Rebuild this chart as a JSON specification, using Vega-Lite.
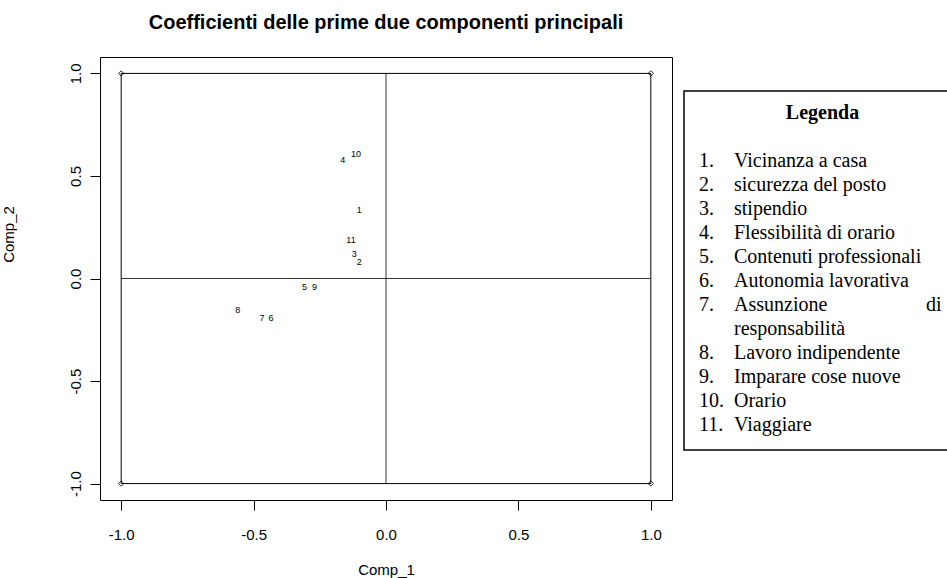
{
  "$schema": "https://vega.github.io/schema/vega-lite/v6.json",
  "background": "white",
  "padding": {"left": 0, "top": 12, "right": 0, "bottom": 0},
  "bounds": "flush",
  "spacing": 12,
  "config": {
    "view": {"stroke": null},
    "font": "Liberation Sans",
    "axis": {"labelFont": "Liberation Sans", "titleFont": "Liberation Sans"}
  },
  "datasets": {
    "loadings": [
      {"label": "1", "comp1": -0.101, "comp2": 0.335},
      {"label": "2", "comp1": -0.101, "comp2": 0.082},
      {"label": "3", "comp1": -0.12, "comp2": 0.121},
      {"label": "4", "comp1": -0.163, "comp2": 0.578},
      {"label": "5", "comp1": -0.308, "comp2": -0.04},
      {"label": "6", "comp1": -0.434, "comp2": -0.192},
      {"label": "7", "comp1": -0.468, "comp2": -0.192},
      {"label": "8", "comp1": -0.56, "comp2": -0.154},
      {"label": "9", "comp1": -0.27, "comp2": -0.04},
      {"label": "10", "comp1": -0.113, "comp2": 0.609},
      {"label": "11", "comp1": -0.132, "comp2": 0.187}
    ],
    "square": [
      {"comp1": -1, "comp2": 1, "comp1_end": 1, "comp2_end": 1},
      {"comp1": -1, "comp2": -1, "comp1_end": 1, "comp2_end": -1},
      {"comp1": -1, "comp2": -1, "comp1_end": -1, "comp2_end": 1},
      {"comp1": 1, "comp2": -1, "comp1_end": 1, "comp2_end": 1}
    ],
    "origin_lines": [
      {"comp1": -1, "comp2": 0, "comp1_end": 1, "comp2_end": 0},
      {"comp1": 0, "comp2": -1, "comp1_end": 0, "comp2_end": 1}
    ],
    "corners": [
      {"comp1": -1, "comp2": 1},
      {"comp1": 1, "comp2": 1},
      {"comp1": -1, "comp2": -1},
      {"comp1": 1, "comp2": -1}
    ],
    "legend": [
      {"line": 1, "num": "1.", "label": "Vicinanza a casa"},
      {"line": 2, "num": "2.", "label": "sicurezza del posto"},
      {"line": 3, "num": "3.", "label": "stipendio"},
      {"line": 4, "num": "4.", "label": "Flessibilità di orario"},
      {"line": 5, "num": "5.", "label": "Contenuti professionali"},
      {"line": 6, "num": "6.", "label": "Autonomia lavorativa"},
      {"line": 7, "num": "7.", "label": "Assunzione", "tail": "di"},
      {"line": 8, "num": "", "label": "responsabilità"},
      {"line": 9, "num": "8.", "label": "Lavoro indipendente"},
      {"line": 10, "num": "9.", "label": "Imparare cose nuove"},
      {"line": 11, "num": "10.", "label": "Orario"},
      {"line": 12, "num": "11.", "label": "Viaggiare"}
    ]
  },
  "hconcat": [
    {
      "width": 572,
      "height": 443,
      "view": {"stroke": "black", "strokeWidth": 1},
      "title": {
        "text": "Coefficienti delle prime due componenti principali",
        "font": "Liberation Sans",
        "fontSize": 20,
        "fontWeight": "bold",
        "color": "black",
        "anchor": "middle",
        "offset": 24
      },
      "encoding": {
        "x": {
          "field": "comp1",
          "type": "quantitative",
          "scale": {"domain": [-1.08, 1.08], "nice": false, "zero": false},
          "axis": {
            "values": [-1, -0.5, 0, 0.5, 1],
            "labelExpr": "(datum.value < 0 ? '-' : '') + format(abs(datum.value), '.1f')",
            "domain": false,
            "grid": false,
            "ticks": true,
            "tickSize": 10,
            "tickColor": "black",
            "labelPadding": 17,
            "labelFontSize": 15,
            "labelColor": "black",
            "title": "Comp_1",
            "titleFontSize": 15,
            "titleFontWeight": "normal",
            "titleColor": "black",
            "titlePadding": 20
          }
        },
        "y": {
          "field": "comp2",
          "type": "quantitative",
          "scale": {"domain": [-1.08, 1.08], "nice": false, "zero": false},
          "axis": {
            "values": [-1, -0.5, 0, 0.5, 1],
            "labelExpr": "(datum.value < 0 ? '-' : '') + format(abs(datum.value), '.1f')",
            "domain": false,
            "grid": false,
            "tickSize": 10,
            "tickColor": "black",
            "labelAngle": 270,
            "labelAlign": "center",
            "labelBaseline": "bottom",
            "labelPadding": 7,
            "labelFontSize": 15,
            "labelColor": "black",
            "title": "Comp_2",
            "titleFontSize": 15,
            "titleFontWeight": "normal",
            "titleColor": "black",
            "titleAngle": 270,
            "titleBaseline": "bottom",
            "titleX": -84,
            "titleY": 177
          }
        }
      },
      "layer": [
        {
          "data": {"name": "square"},
          "mark": {"type": "rule", "color": "black", "strokeWidth": 1},
          "encoding": {
            "x2": {"field": "comp1_end"},
            "y2": {"field": "comp2_end"}
          }
        },
        {
          "data": {"name": "origin_lines"},
          "mark": {"type": "rule", "color": "#333333", "strokeWidth": 1},
          "encoding": {
            "x2": {"field": "comp1_end"},
            "y2": {"field": "comp2_end"}
          }
        },
        {
          "data": {"values": [{}]},
          "mark": {"type": "rule", "color": "#808080", "strokeWidth": 2, "clip": false},
          "encoding": {
            "x": {"datum": -1.087},
            "y": {"datum": -1},
            "y2": {"datum": 1}
          }
        },
        {
          "data": {"values": [{}]},
          "mark": {"type": "rule", "color": "#808080", "strokeWidth": 2, "clip": false},
          "encoding": {
            "y": {"datum": -1.087},
            "x": {"datum": -1},
            "x2": {"datum": 1}
          }
        },
        {
          "data": {"name": "corners"},
          "mark": {"type": "point", "shape": "diamond", "filled": false, "size": 28, "color": "black", "strokeWidth": 0.8, "opacity": 1}
        },
        {
          "data": {"name": "loadings"},
          "mark": {"type": "text", "fontSize": 9, "font": "Liberation Sans", "align": "center", "baseline": "middle", "color": "black"},
          "encoding": {"text": {"field": "label"}}
        }
      ]
    },
    {
      "width": 277,
      "height": 443,
      "data": {"name": "legend"},
      "layer": [
        {
          "data": {"values": [{}]},
          "mark": {"type": "rect", "fill": "white", "stroke": "black", "strokeWidth": 1.5},
          "encoding": {
            "x": {"datum": 0, "type": "quantitative", "scale": {"domain": [0, 1], "nice": false, "zero": false}, "axis": null},
            "x2": {"datum": 1},
            "y": {"datum": -1.92, "type": "quantitative", "scale": {"domain": [-3.333, 15.125], "reverse": true, "nice": false, "zero": false}, "axis": null},
            "y2": {"datum": 13.04}
          }
        },
        {
          "data": {"values": [{}]},
          "mark": {"type": "text", "font": "Liberation Serif", "fontSize": 20, "fontWeight": "bold", "align": "center", "baseline": "middle", "color": "black"},
          "encoding": {
            "x": {"datum": 0.5, "type": "quantitative"},
            "y": {"datum": -1, "type": "quantitative"},
            "text": {"value": "Legenda"}
          }
        },
        {
          "mark": {"type": "text", "font": "Liberation Serif", "fontSize": 20, "align": "left", "baseline": "middle", "dx": 15, "color": "black"},
          "encoding": {
            "x": {"datum": 0, "type": "quantitative"},
            "y": {"field": "line", "type": "quantitative"},
            "text": {"field": "num"}
          }
        },
        {
          "mark": {"type": "text", "font": "Liberation Serif", "fontSize": 20, "align": "left", "baseline": "middle", "dx": 50, "color": "black"},
          "encoding": {
            "x": {"datum": 0, "type": "quantitative"},
            "y": {"field": "line", "type": "quantitative"},
            "text": {"field": "label"}
          }
        },
        {
          "transform": [{"filter": "isValid(datum.tail)"}],
          "mark": {"type": "text", "font": "Liberation Serif", "fontSize": 20, "align": "left", "baseline": "middle", "dx": 242, "color": "black"},
          "encoding": {
            "x": {"datum": 0, "type": "quantitative"},
            "y": {"field": "line", "type": "quantitative"},
            "text": {"field": "tail"}
          }
        }
      ]
    }
  ]
}
